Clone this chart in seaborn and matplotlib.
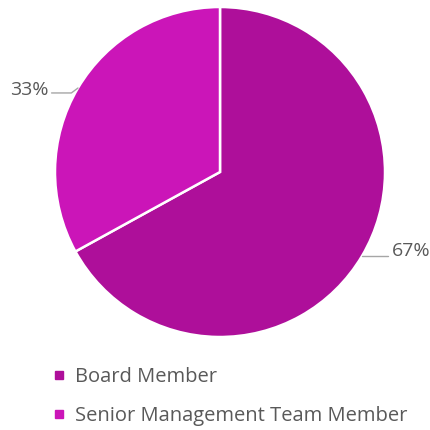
import numpy as np
import matplotlib.pyplot as plt
import seaborn as sns
from matplotlib.lines import Line2D

categories = ['Board Member', 'Senior Management Team Member']
shares = [67, 33]
colors = ['#AE0F9A', '#CB15B8']

sns.set_theme(style='white')
plt.rcParams['font.family'] = ['Open Sans', 'DejaVu Sans']
text_color = '#595959'

fig = plt.figure(figsize=(4.3, 4.3), dpi=100)
# pie: centre (220,172) px, radius 165 px
ax = fig.add_axes([55 / 430, 1 - 337 / 430, 330 / 430, 330 / 430])
wedges, _ = ax.pie(shares, colors=colors, startangle=90, counterclock=False,
                   radius=1, wedgeprops=dict(edgecolor='white', linewidth=1.8))
ax.set_xlim(-1, 1)
ax.set_ylim(-1, 1)
ax.set_aspect('equal')
ax.axis('off')

# data labels with short leader lines
for w, val in zip(wedges, shares):
    mid = np.deg2rad((w.theta1 + w.theta2) / 2)
    x0, y0 = np.cos(mid), np.sin(mid)
    side = 1 if x0 > 0 else -1
    x1, y1 = x0 + side * 0.04, y0 - 0.03 if side < 0 else y0
    x2 = x1 + side * 0.12
    ax.plot([x0, x1, x2], [y0, y1, y1], color='#A6A6A6', lw=1, clip_on=False)
    ax.text(x2 + side * 0.02, y1 + (0.03 if side > 0 else 0.02), f'{val}%',
            ha='left' if side > 0 else 'right', va='center', fontsize=14, color=text_color)

handles = [Line2D([0], [0], marker='s', color='none', markerfacecolor=c,
                  markeredgecolor=c, markersize=6) for c in colors]
fig.legend(handles, categories, loc='upper left', bbox_to_anchor=(42 / 430, 1 - 357 / 430),
           frameon=False, fontsize=14.5, labelcolor=text_color, handlelength=0.7,
           handletextpad=0.45, labelspacing=0.95, borderpad=0)

fig.savefig('out.png', dpi=100)
